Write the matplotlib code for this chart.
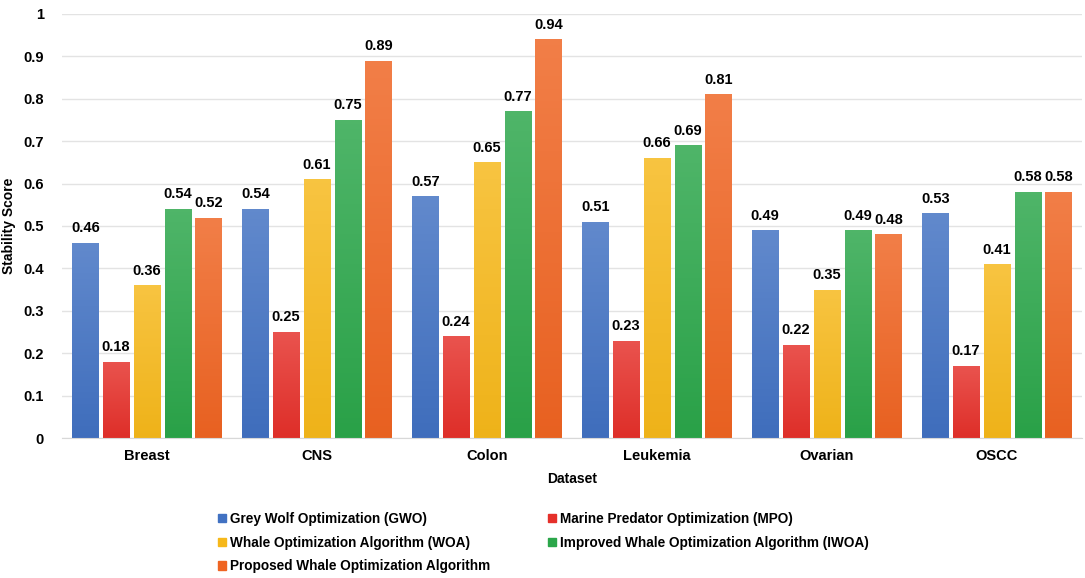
import numpy as np
import matplotlib
matplotlib.use("Agg")
import matplotlib.pyplot as plt
from matplotlib.patches import Patch
from matplotlib.colors import to_rgb

plt.rcParams['font.family'] = ['Liberation Sans', 'DejaVu Sans']
plt.rcParams['font.weight'] = 'bold'

datasets = ["Breast", "CNS", "Colon", "Leukemia", "Ovarian", "OSCC"]
series_names = ["Grey Wolf Optimization (GWO)",
                "Marine Predator Optimization (MPO)",
                "Whale Optimization Algorithm (WOA)",
                "Improved Whale Optimization Algorithm (IWOA)",
                "Proposed Whale Optimization Algorithm"]
gwo = [0.46, 0.54, 0.57, 0.51, 0.49, 0.53]
mpo = [0.18, 0.25, 0.24, 0.23, 0.22, 0.17]
woa = [0.36, 0.61, 0.65, 0.66, 0.35, 0.41]
iwoa = [0.54, 0.75, 0.77, 0.69, 0.49, 0.58]
proposed = [0.52, 0.89, 0.94, 0.81, 0.48, 0.58]
series = [gwo, mpo, woa, iwoa, proposed]
colors = ["#4171C2", "#E5302A", "#F6B81A", "#2BA64A", "#EF6422"]

fig = plt.figure(figsize=(10.85, 5.78), dpi=100)
ax = fig.add_axes([0.057, 0.242, 0.940, 0.734])

x = np.arange(len(datasets))
step = 0.181
width = 0.153


def lighten(c, f):
    r, g, b = to_rgb(c)
    return (r + (1 - r) * f, g + (1 - g) * f, b + (1 - b) * f)


for i, (vals, col) in enumerate(zip(series, colors)):
    pos = x + (i - 2) * step
    bars = ax.bar(pos, vals, width, color=col, zorder=2)
    # soft vertical gradient, lighter at the top
    top = np.array(lighten(col, 0.17))
    bot = np.array(to_rgb(col)) * 0.97
    grad = np.linspace(0, 1, 64)[:, None, None]
    img = (bot * (1 - grad) + top * grad).reshape(64, 1, 3)
    for b, v in zip(bars, vals):
        im = ax.imshow(img, extent=(b.get_x(), b.get_x() + width, 0, v),
                       origin='lower', aspect='auto', zorder=2.1)
        im.set_clip_path(b)
        ax.text(b.get_x() + width / 2, v + 0.018, "%.2f" % v,
                ha='center', va='bottom', fontsize=10.5, fontweight='bold')

ax.set_xlim(-0.5, 5.5)
ax.set_ylim(0, 1)
ax.set_yticks(np.arange(0, 1.01, 0.1))
ax.set_yticklabels(["%g" % round(t, 1) for t in np.arange(0, 1.01, 0.1)])
ax.set_xticks(x)
ax.set_xticklabels(datasets)
ax.tick_params(axis='both', labelsize=10.5, length=0, pad=8)
ax.tick_params(axis='y', pad=13)
ax.grid(axis='y', color='#E3E3E3', linewidth=1, zorder=0)
for s in ['left', 'right', 'top']:
    ax.spines[s].set_visible(False)
ax.spines['bottom'].set_color('#D8D8D8')
ax.set_xlabel("Dataset", fontsize=10, fontweight='bold', labelpad=6)
ax.set_ylabel("Stability Score", fontsize=10, fontweight='bold', labelpad=5)

handles = [Patch(color=c, label=n) for c, n in zip(colors, series_names)]
order = [0, 2, 4, 1, 3]
fig.legend([handles[k] for k in order], [series_names[k] for k in order],
           ncol=2, loc='upper left', bbox_to_anchor=(0.196, 0.124),
           frameon=False, fontsize=9.8, handlelength=0.55, handleheight=0.55,
           handletextpad=0.3, columnspacing=4.3, labelspacing=0.72,
           borderaxespad=0)

fig.savefig("out.png", dpi=100)
